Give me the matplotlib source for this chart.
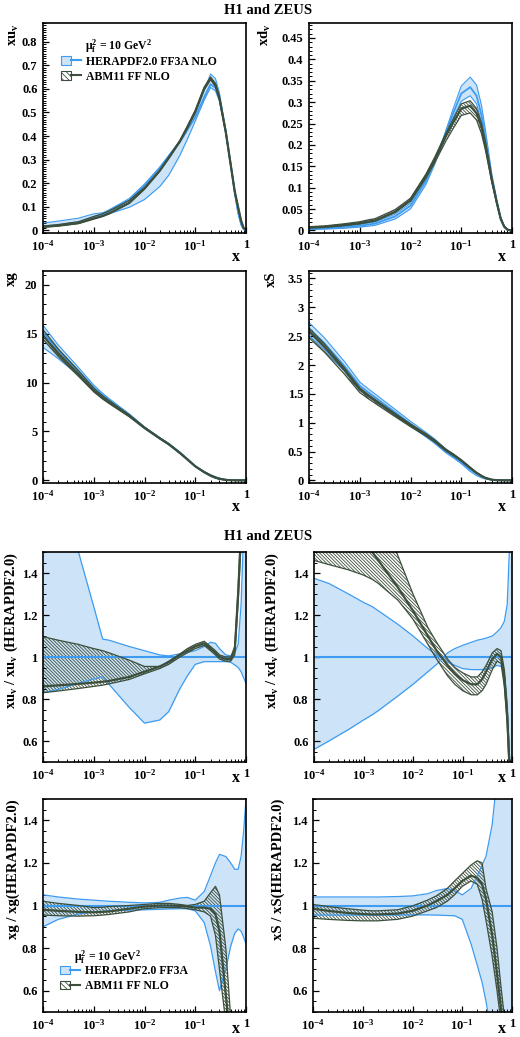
import numpy as np
import matplotlib
matplotlib.use("Agg")
import matplotlib.pyplot as plt
from matplotlib.patches import Patch
from matplotlib.lines import Line2D
from matplotlib.legend_handler import HandlerTuple
from matplotlib.ticker import FixedLocator, LogLocator, AutoMinorLocator, FuncFormatter, NullFormatter

plt.rcParams['font.family'] = ['Liberation Serif', 'DejaVu Serif']
plt.rcParams['font.weight'] = 'bold'
plt.rcParams['axes.labelweight'] = 'bold'
plt.rcParams['mathtext.fontset'] = 'custom'
plt.rcParams['mathtext.rm'] = 'Liberation Serif:bold'
plt.rcParams['mathtext.it'] = 'Liberation Serif:italic:bold'
plt.rcParams['mathtext.bf'] = 'Liberation Serif:bold'
plt.rcParams['hatch.linewidth'] = 0.6

# x grid shared by all curves
X = [1e-4, 2e-4, 5e-4, 1e-3, 1.5e-3, 2e-3, 5e-3, 1e-2, 2e-2, 3e-2, 5e-2, 0.07, 0.1,
     0.15, 0.2, 0.25, 0.3, 0.4, 0.5, 0.6, 0.7, 0.8, 0.9, 1.0]

# xu_v : HERAPDF central, HERAPDF band edges (ratio), ABM ratio central / low / high
hera_uv = [0.016, 0.022, 0.034, 0.056, 0.068, 0.080, 0.128, 0.190, 0.265, 0.315, 0.375, 0.425, 0.480,
           0.565, 0.620, 0.605, 0.560, 0.420, 0.280, 0.160, 0.075, 0.025, 0.004, 0.0]
hera_uv_e1 = [1.90, 1.75, 1.50, 1.24, 1.085, 1.08, 1.05, 1.03, 1.01, 1.005, 1.015, 1.022, 1.03,
              1.05, 1.07, 1.065, 1.04, 1.01, 1.005, 1.02, 1.06, 1.25, 1.60, 2.00]
hera_uv_e2 = [0.83, 0.845, 0.875, 0.895, 0.905, 0.87, 0.76, 0.685, 0.70, 0.74, 0.85, 0.91, 0.965,
              0.978, 0.978, 0.978, 0.978, 0.978, 0.975, 0.962, 0.95, 0.93, 0.90, 0.875]
abm_uv = [0.86, 0.865, 0.872, 0.878, 0.882, 0.886, 0.905, 0.93, 0.955, 0.975, 1.01, 1.03, 1.05,
          1.065, 1.04, 1.02, 1.0, 0.99, 0.99, 1.03, 1.3, 1.6, 2.2, 3.0]
abm_uv_lo = [0.83, 0.838, 0.85, 0.86, 0.866, 0.872, 0.893, 0.92, 0.945, 0.965, 1.0, 1.02, 1.04,
             1.055, 1.03, 1.01, 0.99, 0.98, 0.98, 1.01, 1.26, 1.55, 2.1, 2.9]
abm_uv_hi = [1.097, 1.08, 1.06, 1.04, 1.03, 1.02, 0.985, 0.955, 0.955, 0.98, 1.015, 1.04, 1.06,
             1.075, 1.05, 1.03, 1.01, 1.0, 1.0, 1.05, 1.33, 1.65, 2.3, 3.1]

# xd_v
hera_dv = [0.004, 0.005, 0.008, 0.011, 0.014, 0.016, 0.033, 0.058, 0.115, 0.160, 0.230, 0.275, 0.320,
           0.335, 0.315, 0.270, 0.215, 0.120, 0.065, 0.027, 0.010, 0.003, 0.0005, 0.0]
hera_dv_e1 = [1.375, 1.35, 1.30, 1.26, 1.24, 1.22, 1.155, 1.10, 1.04, 1.01, 0.975, 0.96, 0.945,
              0.94, 0.94, 0.94, 0.94, 0.95, 0.96, 0.955, 0.93, 0.78, 0.48, 0.20]
hera_dv_e2 = [0.56, 0.60, 0.655, 0.70, 0.725, 0.745, 0.815, 0.87, 0.93, 0.965, 1.02, 1.04, 1.055,
              1.07, 1.08, 1.085, 1.09, 1.10, 1.12, 1.14, 1.17, 1.25, 1.55, 2.0]
abm_dv = [1.70, 1.68, 1.62, 1.56, 1.50, 1.46, 1.33, 1.22, 1.10, 1.03, 0.96, 0.92, 0.89,
          0.87, 0.87, 0.895, 0.93, 0.99, 1.015, 1.0, 0.90, 0.72, 0.45, 0.20]
abm_dv_lo = [1.46, 1.44, 1.415, 1.39, 1.37, 1.35, 1.27, 1.18, 1.06, 0.99, 0.91, 0.87, 0.84,
             0.82, 0.82, 0.84, 0.87, 0.94, 0.98, 0.97, 0.86, 0.68, 0.40, 0.15]
abm_dv_hi = [2.2, 2.1, 1.95, 1.85, 1.78, 1.72, 1.48, 1.30, 1.14, 1.07, 0.99, 0.95, 0.925,
             0.905, 0.905, 0.93, 0.96, 1.02, 1.04, 1.03, 0.94, 0.76, 0.50, 0.25]

# xg
hera_g = [15.1, 13.3, 11.2, 9.5, 8.7, 8.2, 6.7, 5.4, 4.3, 3.7, 2.8, 2.15, 1.45,
          0.85, 0.5, 0.3, 0.18, 0.07, 0.03, 0.01, 0.004, 0.001, 0.0, 0.0]
hera_g_e1 = [1.05, 1.04, 1.03, 1.025, 1.022, 1.02, 1.015, 1.012, 1.015, 1.025, 1.035, 1.038, 1.025,
             1.065, 1.14, 1.20, 1.24, 1.23, 1.20, 1.17, 1.17, 1.23, 1.35, 1.5]
hera_g_e2 = [0.90, 0.935, 0.96, 0.97, 0.972, 0.975, 0.978, 0.98, 0.982, 0.984, 0.985, 0.985, 0.975,
             0.92, 0.81, 0.69, 0.60, 0.70, 0.81, 0.87, 0.89, 0.88, 0.85, 0.82]
abm_g = [0.98, 0.975, 0.97, 0.968, 0.97, 0.972, 0.985, 0.995, 1.0, 1.0, 0.998, 0.995, 0.99,
         0.99, 0.985, 0.96, 0.88, 0.58, 0.35, 0.2, 0.1, 0.05, 0.0, 0.0]
abm_g_lo = [0.955, 0.952, 0.95, 0.952, 0.955, 0.958, 0.97, 0.985, 0.99, 0.99, 0.99, 0.985, 0.98,
            0.97, 0.95, 0.86, 0.70, 0.45, 0.25, 0.12, 0.05, 0.0, 0.0, 0.0]
abm_g_hi = [1.02, 1.01, 1.0, 0.99, 0.992, 0.995, 1.0, 1.005, 1.01, 1.01, 1.005, 1.0, 1.005,
            1.02, 1.06, 1.09, 1.05, 0.80, 0.47, 0.30, 0.15, 0.08, 0.0, 0.0]

# xS
hera_s = [2.63, 2.38, 1.98, 1.64, 1.52, 1.44, 1.18, 0.98, 0.79, 0.67, 0.50, 0.41, 0.31,
          0.19, 0.115, 0.07, 0.04, 0.012, 0.004, 0.001, 0.0, 0.0, 0.0, 0.0]
hera_s_e1 = [1.04, 1.04, 1.04, 1.04, 1.04, 1.04, 1.042, 1.045, 1.055, 1.07, 1.08, 1.07, 1.05,
             1.08, 1.14, 1.19, 1.23, 1.38, 1.60, 1.90, 2.30, 2.80, 3.40, 4.0]
hera_s_e2 = [0.955, 0.955, 0.955, 0.955, 0.955, 0.955, 0.955, 0.956, 0.956, 0.955, 0.953, 0.952, 0.935,
             0.82, 0.72, 0.64, 0.55, 0.38, 0.25, 0.15, 0.08, 0.04, 0.02, 0.0]
abm_s = [0.985, 0.975, 0.965, 0.96, 0.958, 0.958, 0.962, 0.975, 1.0, 1.02, 1.05, 1.08, 1.115,
         1.14, 1.13, 1.10, 1.03, 0.86, 0.68, 0.52, 0.38, 0.25, 0.12, 0.0]
abm_s_lo = [0.94, 0.935, 0.93, 0.928, 0.928, 0.928, 0.935, 0.95, 0.975, 0.99, 1.02, 1.05, 1.09,
            1.115, 1.10, 1.03, 0.93, 0.76, 0.60, 0.45, 0.30, 0.18, 0.08, 0.0]
abm_s_hi = [1.005, 0.995, 0.985, 0.978, 0.975, 0.975, 0.98, 0.998, 1.025, 1.045, 1.08, 1.115, 1.15,
            1.19, 1.21, 1.20, 1.08, 0.97, 0.80, 0.62, 0.48, 0.33, 0.18, 0.0]

LIGHT = '#cde4f8'
BLUE = '#3d9bf0'
DARK = '#3c4f3c'
HATCH = '\\' * 10

W, H = 520, 1037
fig = plt.figure(figsize=(W / 100, H / 100), dpi=100)


def add_axes(l, r, t, b):
    return fig.add_axes([l / W, 1 - b / H, (r - l) / W, (b - t) / H])


def style(ax, ylim, ymajor, yminor, ylab, lx, xl_y):
    ax.set_xscale('log')
    ax.set_xlim(1e-4, 1)
    ax.set_ylim(*ylim)
    ax.xaxis.set_major_locator(FixedLocator([1e-4, 1e-3, 1e-2, 1e-1, 1]))
    ax.xaxis.set_major_formatter(FuncFormatter(
        lambda v, p: '1' if v > 0.5 else '10$^{\\mathregular{%d}}$' % round(np.log10(v))))
    ax.xaxis.set_minor_locator(LogLocator(base=10, subs=np.arange(2, 10)))
    ax.xaxis.set_minor_formatter(NullFormatter())
    ax.yaxis.set_major_locator(FixedLocator(ymajor))
    ax.yaxis.set_major_formatter(FuncFormatter(lambda v, p: '%g' % v))
    ax.yaxis.set_minor_locator(AutoMinorLocator(yminor))
    ax.tick_params(which='both', direction='in', top=False, right=False, labelsize=9)
    ax.tick_params(which='major', length=4.5, width=0.9, pad=4)
    ax.tick_params(which='minor', length=2.2, width=0.7)
    for s in ax.spines.values():
        s.set_linewidth(1.2)
    ax.set_ylabel(ylab, fontsize=10.5, loc='top')
    ax.yaxis.set_label_coords(lx, 1.0)
    ax.set_xlabel('x', fontsize=11.5)
    ax.xaxis.set_label_coords(0.95, xl_y)


def top_panel(ax, hc, e1, e2, ac, alo, ahi):
    hc = np.array(hc)
    b1 = hc * np.array(e1)
    b2 = hc * np.array(e2)
    ax.fill_between(X, b1, b2, color=LIGHT, lw=0)
    ax.plot(X, b1, color=BLUE, lw=0.8)
    ax.plot(X, b2, color=BLUE, lw=0.8)
    ax.plot(X, hc, color=BLUE, lw=1.3)
    a_lo = hc * np.array(alo)
    a_hi = hc * np.array(ahi)
    ax.fill_between(X, a_lo, a_hi, facecolor='none', edgecolor=DARK, hatch=HATCH, lw=0)
    ax.plot(X, a_lo, color=DARK, lw=0.9)
    ax.plot(X, a_hi, color=DARK, lw=0.9)
    ax.plot(X, hc * np.array(ac), color=DARK, lw=1.6)


def ratio_panel(ax, e1, e2, ac, alo, ahi):
    ax.fill_between(X, e1, e2, color=LIGHT, lw=0)
    ax.plot(X, e1, color=BLUE, lw=0.9)
    ax.plot(X, e2, color=BLUE, lw=0.9)
    ax.plot(X, np.ones(len(X)), color=BLUE, lw=1.5)
    ax.fill_between(X, alo, ahi, facecolor='none', edgecolor=DARK, hatch=HATCH, lw=0)
    ax.plot(X, alo, color=DARK, lw=0.9)
    ax.plot(X, ahi, color=DARK, lw=0.9)
    ax.plot(X, ac, color=DARK, lw=1.6)


def legend(ax, mu_xy, leg_xy, labels):
    ax.text(mu_xy[0], mu_xy[1], 'μ$_{\\mathregular{f}}^{\\mathregular{2}}$ = 10 GeV$^{\\mathregular{2}}$',
            transform=ax.transAxes, fontsize=8.5, va='center', ha='left')
    h1 = (Patch(facecolor=LIGHT, edgecolor=BLUE, lw=0.8), Line2D([], [], color=BLUE, lw=1.5))
    h2 = (Patch(facecolor='none', edgecolor=DARK, hatch='\\' * 6, lw=0.8), Line2D([], [], color=DARK, lw=1.5))
    ax.legend([h1, h2], labels, handler_map={tuple: HandlerTuple(ndivide=None)},
              loc='upper left', bbox_to_anchor=leg_xy, frameon=False, fontsize=8.5,
              borderpad=0, borderaxespad=0, handlelength=1.7, handletextpad=0.45,
              labelspacing=0.25)


yl_uv = 'xu$_{\\mathregular{v}}$'
yl_dv = 'xd$_{\\mathregular{v}}$'

axA = add_axes(43, 246, 23, 233)
top_panel(axA, hera_uv, hera_uv_e1, hera_uv_e2, abm_uv, abm_uv_lo, abm_uv_hi)
style(axA, (-0.012, 0.88), np.arange(0, 0.85, 0.1), 10, yl_uv, -0.108, -0.075)
legend(axA, (0.207, 0.886), (0.089, 0.845), ['HERAPDF2.0 FF3A NLO', 'ABM11 FF NLO'])

axB = add_axes(309, 512, 23, 233)
top_panel(axB, hera_dv, hera_dv_e1, hera_dv_e2, abm_dv, abm_dv_lo, abm_dv_hi)
style(axB, (-0.006, 0.485), np.arange(0, 0.46, 0.05), 5, yl_dv, -0.177, -0.075)

axC = add_axes(43, 246, 271, 483)
top_panel(axC, hera_g, hera_g_e1, hera_g_e2, abm_g, abm_g_lo, abm_g_hi)
style(axC, (-0.27, 21.4), [0, 5, 10, 15, 20], 5, 'xg', -0.123, -0.075)

axD = add_axes(309, 512, 271, 483)
top_panel(axD, hera_s, hera_s_e1, hera_s_e2, abm_s, abm_s_lo, abm_s_hi)
style(axD, (-0.046, 3.63), np.arange(0, 3.6, 0.5), 5, 'xS', -0.153, -0.075)

ry = [0.6, 0.8, 1.0, 1.2, 1.4]

axE = add_axes(43, 246, 552, 762)
ratio_panel(axE, hera_uv_e1, hera_uv_e2, abm_uv, abm_uv_lo, abm_uv_hi)
style(axE, (0.5, 1.5), ry, 4, yl_uv + ' / ' + yl_uv + ' (HERAPDF2.0)', -0.113, -0.04)

axF = add_axes(314, 512, 552, 762)
ratio_panel(axF, hera_dv_e1, hera_dv_e2, abm_dv, abm_dv_lo, abm_dv_hi)
style(axF, (0.5, 1.5), ry, 4, yl_dv + ' / ' + yl_dv + ' (HERAPDF2.0)', -0.167, -0.04)

axG = add_axes(43, 246, 799, 1012)
ratio_panel(axG, hera_g_e1, hera_g_e2, abm_g, abm_g_lo, abm_g_hi)
style(axG, (0.5, 1.5), ry, 4, 'xg / xg(HERAPDF2.0)', -0.113, -0.04)
legend(axG, (0.153, 0.254), (0.084, 0.22), ['HERAPDF2.0 FF3A', 'ABM11 FF NLO'])

axH = add_axes(313, 512, 799, 1012)
ratio_panel(axH, hera_s_e1, hera_s_e2, abm_s, abm_s_lo, abm_s_hi)
style(axH, (0.5, 1.5), ry, 4, 'xS / xS(HERAPDF2.0)', -0.141, -0.04)

fig.text(268 / W, 1 - 10 / H, 'H1 and ZEUS', fontsize=10.5, ha='center', va='center')
fig.text(268 / W, 1 - 537 / H, 'H1 and ZEUS', fontsize=10.5, ha='center', va='center')

fig.savefig('out.png', dpi=100, facecolor='white')
